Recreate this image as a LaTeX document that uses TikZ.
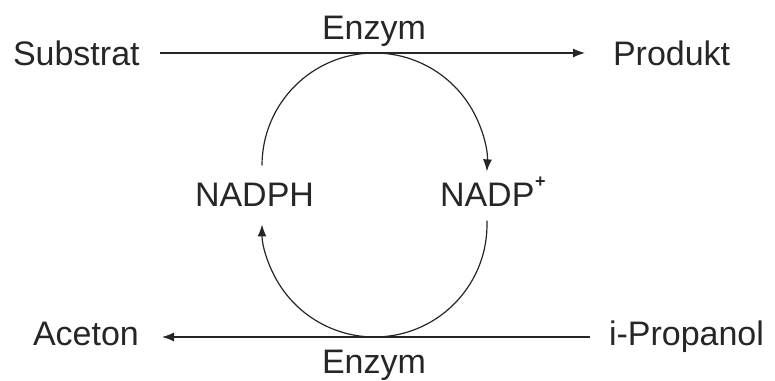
\documentclass[tikz,border=0pt]{standalone}
\usepackage{fontspec}
\setmainfont{Liberation Sans}
\usetikzlibrary{arrows.meta,calc}
\tikzset{
  lbl/.style={anchor=base west, inner sep=0pt, outer sep=0pt, font=\fontsize{17}{20}\selectfont, text=black!85},
  conn/.style={line width=0.6pt, draw=black!85, -{Latex[length=6pt,width=4.5pt]}}
}
\begin{document}
\begin{tikzpicture}[x=0.5pt,y=0.5pt]
\useasboundingbox (0,0) rectangle (775,380);
% text nodes
\node[lbl] (sub) at (13,314) {Substrat};
\node[lbl] (prod) at (613,314) {Produkt};
\node[lbl] (enz1) at (322,340) {Enzym};
\node[lbl] (ace) at (33,35) {Aceton};
\node[lbl] (prop) at (609,35) {i-Propanol};
\node[lbl] (enz2) at (322,7) {Enzym};
\node[lbl] (nadph) at (195,173) {NADPH};
\node[lbl] (nadp) at (440,173) {NADP\kern0.3pt\raisebox{0.58em}{\fontsize{9}{9}\selectfont\bfseries +}};
% connector end points
\coordinate (s1) at (160,327);
\coordinate (s2) at (585,327);
\coordinate (p1) at (590,43);
\coordinate (p2) at (162,43);
\coordinate (a1) at (262,214.5);
\coordinate (b1) at ($(374.5,155.5)+(2:112.5)$);
% horizontal reactions
\draw[conn] (s1) -- (s2);
\draw[conn] (p1) -- (p2);
% cofactor cycle
\draw[conn] (a1) arc[start angle=180, end angle=-3, radius=112.5];
\draw[conn] (b1) arc[start angle=2, end angle=-180, radius=112.5];
\end{tikzpicture}
\end{document}
